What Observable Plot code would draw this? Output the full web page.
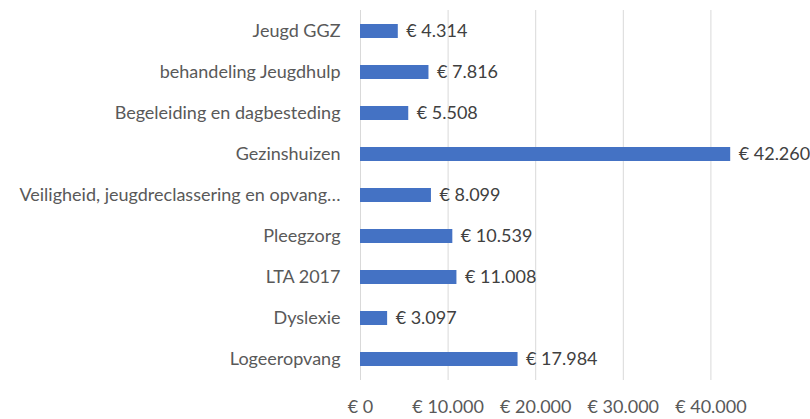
<!DOCTYPE html>
<html>
<head>
<meta charset="utf-8">
<script src="https://cdn.jsdelivr.net/npm/d3@7"></script>
<script src="https://cdn.jsdelivr.net/npm/@observablehq/plot@0.6"></script>
<style>
  html, body { margin: 0; padding: 0; background: #ffffff; }
  #chart { width: 810px; height: 419px; }
</style>
</head>
<body>
<div id="chart"></div>
<script>
const categories = [
  "Jeugd GGZ",
  "behandeling Jeugdhulp",
  "Begeleiding en dagbesteding",
  "Gezinshuizen",
  "Veiligheid, jeugdreclassering en opvang…",
  "Pleegzorg",
  "LTA 2017",
  "Dyslexie",
  "Logeeropvang"
];
const values = [4314, 7816, 5508, 42260, 8099, 10539, 11008, 3097, 17984];
const xTicks = [0, 10000, 20000, 30000, 40000];

const nl = d3.formatLocale({decimal: ",", thousands: ".", grouping: [3], currency: ["€ ", ""]});
const euro = nl.format("$,d");

const data = categories.map((c, i) => ({category: c, value: values[i]}));

const chart = Plot.plot({
  width: 810,
  height: 419,
  marginLeft: 360,
  marginRight: 12,
  marginTop: 10,
  marginBottom: 39,
  style: {fontFamily: "Lato", fontSize: "18px", color: "#595959", background: "#ffffff"},
  x: {domain: [0, 50000], ticks: xTicks, tickFormat: euro, tickSize: 0, tickPadding: 20, label: null},
  y: {domain: categories, paddingInner: 0.66, paddingOuter: 0.33, tickSize: 0, tickPadding: 20, label: null},
  marks: [
    Plot.gridX(xTicks, {stroke: "#d9d9d9", strokeOpacity: 1, strokeWidth: 1}),
    Plot.barX(data, {x: "value", y: "category", fill: "#4472C4"}),
    Plot.text(data, {x: "value", y: "category", text: d => euro(d.value), textAnchor: "start", dx: 8, fill: "#404040", fontSize: 18})
  ]
});
document.getElementById("chart").appendChild(chart);
</script>
</body>
</html>
